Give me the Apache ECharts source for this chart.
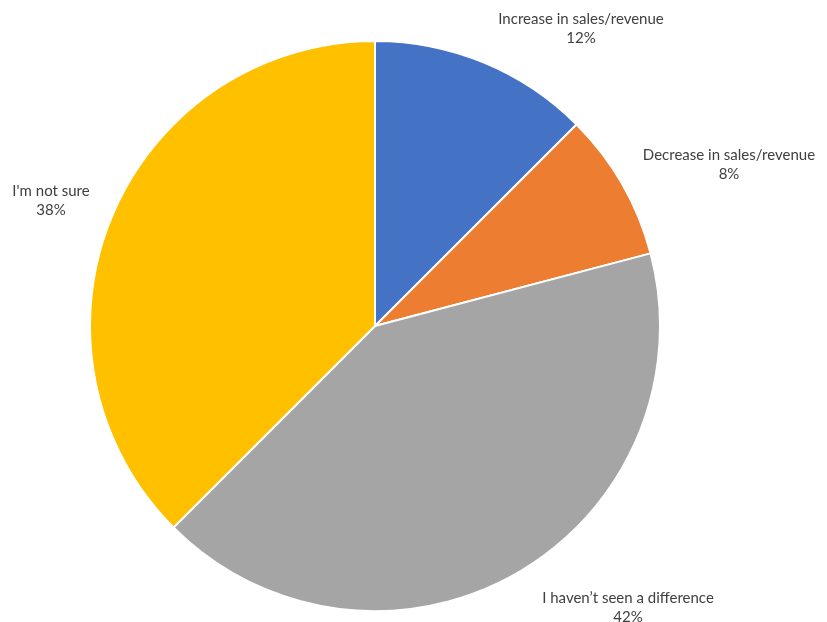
<!DOCTYPE html>
<html>
<head>
<meta charset="utf-8">
<script src="https://cdn.jsdelivr.net/npm/echarts@6/dist/echarts.min.js"></script>
<style>html,body{margin:0;padding:0;background:#fff;}#c{width:827px;height:622px;}</style>
</head>
<body>
<div id="c"></div>
<script>
const categories = ["Increase in sales/revenue", "Decrease in sales/revenue", "I haven\u2019t seen a difference", "I'm not sure"];
const values = [12.5, 8.4, 41.6, 37.5];
const percentLabels = ["12%", "8%", "42%", "38%"];
const colors = ["#4472C4", "#ED7D31", "#A5A5A5", "#FFC000"];

const labelSpots = [[581, 29], [729, 165], [628, 608], [51, 201]];

const chart = echarts.init(document.getElementById('c'), null, {renderer: 'canvas'});
chart.setOption({
  animation: false,
  backgroundColor: '#fff',
  series: [{
    type: 'pie',
    center: [375, 326],
    radius: 285,
    startAngle: 90,
    clockwise: true,
    data: categories.map((n, i) => ({name: n, value: values[i], itemStyle: {color: colors[i]}})),
    itemStyle: {borderColor: '#fff', borderWidth: 2},
    label: {
      show: true,
      position: 'outside',
      alignTo: 'none',
      overflow: 'none',
      width: 300,
      formatter: p => p.name + '\n' + percentLabels[p.dataIndex],
      fontFamily: 'Lato',
      fontSize: 15,
      lineHeight: 19,
      color: '#404040',
      align: 'center'
    },
    labelLine: {show: false},
    labelLayout: p => ({
      x: labelSpots[p.dataIndex][0],
      y: labelSpots[p.dataIndex][1],
      align: 'center',
      verticalAlign: 'middle',
      hideOverlap: false
    }),
    emphasis: {disabled: true}
  }]
});
</script>
</body>
</html>
